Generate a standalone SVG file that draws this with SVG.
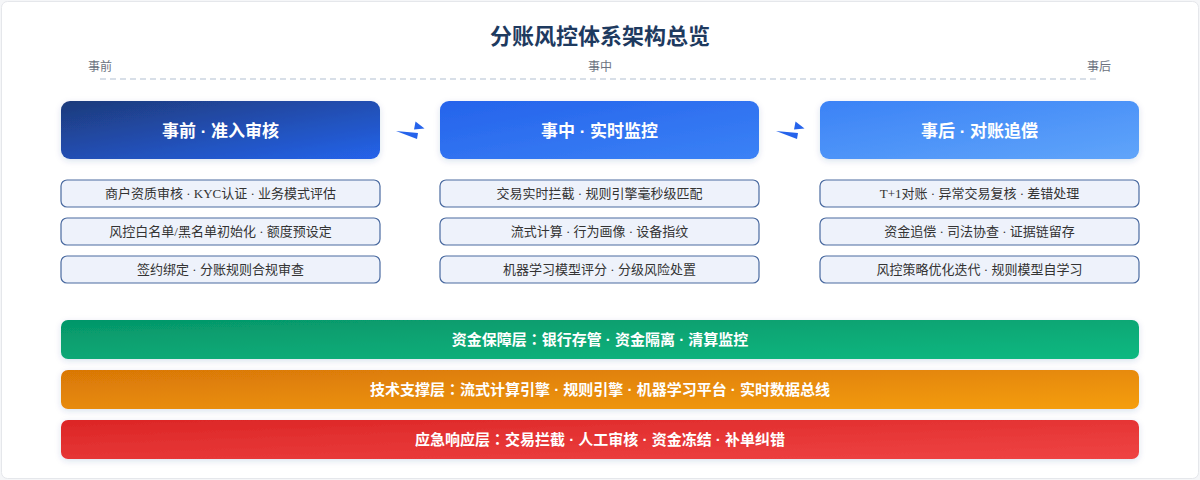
<svg xmlns="http://www.w3.org/2000/svg" width="1200" height="480" viewBox="0 0 1200 480">
<defs>
<linearGradient id="g1" x1="0" y1="0" x2="1" y2="1"><stop offset="0" stop-color="#1e3a7a"/><stop offset="1" stop-color="#2563eb"/></linearGradient>
<linearGradient id="g2" x1="0" y1="0" x2="1" y2="1"><stop offset="0" stop-color="#2563eb"/><stop offset="1" stop-color="#3b82f6"/></linearGradient>
<linearGradient id="g3" x1="0" y1="0" x2="1" y2="1"><stop offset="0" stop-color="#3b82f6"/><stop offset="1" stop-color="#60a5fa"/></linearGradient>
<linearGradient id="gg" x1="0" y1="0" x2="1" y2="1"><stop offset="0" stop-color="#059669"/><stop offset="1" stop-color="#10b981"/></linearGradient>
<linearGradient id="go" x1="0" y1="0" x2="1" y2="1"><stop offset="0" stop-color="#d97706"/><stop offset="1" stop-color="#f59e0b"/></linearGradient>
<linearGradient id="gr" x1="0" y1="0" x2="1" y2="1"><stop offset="0" stop-color="#dc2626"/><stop offset="1" stop-color="#ef4444"/></linearGradient>
<filter id="sh" x="-10%" y="-30%" width="120%" height="180%"><feDropShadow dx="0" dy="2" stdDeviation="3" flood-color="#1e3a8a" flood-opacity="0.15"/></filter>
</defs>
<style>
.title{font-family:"Noto Sans CJK SC","Liberation Sans",sans-serif;font-size:22px;font-weight:700;fill:#1e3a5f}
.tl{font-family:"Noto Sans CJK SC","Liberation Sans",sans-serif;font-size:12px;fill:#6b7280}
.hd{font-family:"Liberation Sans","Noto Sans CJK SC",sans-serif;font-size:17px;font-weight:700;fill:#fff}
.it{fill:#eef2fb;stroke:#4a6aa0;stroke-width:1.2}
.itt{font-family:"Liberation Serif","Noto Sans CJK SC",serif;font-size:13px;fill:#333}
.ly{font-family:"Liberation Sans","Noto Sans CJK SC",sans-serif;font-size:15px;font-weight:700;fill:#fff}
.col{font-family:"Noto Sans CJK TC","Noto Sans CJK SC",sans-serif}
.arr{fill:#2563eb}
</style>
<rect x="0" y="0" width="1200" height="480" fill="#f5f6f8"/>
<rect x="1.5" y="1.5" width="1197" height="477" rx="6" fill="#fff" stroke="#e5e7eb"/>
<text class="title" x="600" y="44" text-anchor="middle">分账风控体系架构总览</text>
<g id="timeline">
<text class="tl" x="100" y="71" text-anchor="middle">事前</text>
<text class="tl" x="600" y="71" text-anchor="middle">事中</text>
<text class="tl" x="1099" y="71" text-anchor="middle">事后</text>
<line x1="100" y1="79" x2="1098" y2="79" stroke="#cbd5e1" stroke-width="1.5" stroke-dasharray="6 4"/>
</g>
<g id="connectors">
<polygon class="arr" points="396,131 418,133 417,139"/>
<polygon class="arr" points="415.5,121.5 424.5,128.5 414,129.5"/>
<polygon class="arr" points="776,131 798,133 797,139"/>
<polygon class="arr" points="795.5,121.5 804.5,128.5 794,129.5"/>
</g>
<g id="pre">
<rect x="61" y="101" width="319" height="58" rx="9" fill="url(#g1)" filter="url(#sh)"/>
<text class="hd" x="220.5" y="136.5" text-anchor="middle">事前 · 准入审核</text>
<rect class="it" x="61" y="180" width="319" height="27" rx="6"/>
<text class="itt" x="220.5" y="198" text-anchor="middle">商户资质审核 · KYC认证 · 业务模式评估</text>
<rect class="it" x="61" y="218" width="319" height="27" rx="6"/>
<text class="itt" x="220.5" y="236" text-anchor="middle">风控白名单/黑名单初始化 · 额度预设定</text>
<rect class="it" x="61" y="256" width="319" height="27" rx="6"/>
<text class="itt" x="220.5" y="274" text-anchor="middle">签约绑定 · 分账规则合规审查</text>
</g>
<g id="mid">
<rect x="440" y="101" width="319" height="58" rx="9" fill="url(#g2)" filter="url(#sh)"/>
<text class="hd" x="599.5" y="136.5" text-anchor="middle">事中 · 实时监控</text>
<rect class="it" x="440" y="180" width="319" height="27" rx="6"/>
<text class="itt" x="599.5" y="198" text-anchor="middle">交易实时拦截 · 规则引擎毫秒级匹配</text>
<rect class="it" x="440" y="218" width="319" height="27" rx="6"/>
<text class="itt" x="599.5" y="236" text-anchor="middle">流式计算 · 行为画像 · 设备指纹</text>
<rect class="it" x="440" y="256" width="319" height="27" rx="6"/>
<text class="itt" x="599.5" y="274" text-anchor="middle">机器学习模型评分 · 分级风险处置</text>
</g>
<g id="post">
<rect x="820" y="101" width="319" height="58" rx="9" fill="url(#g3)" filter="url(#sh)"/>
<text class="hd" x="979.5" y="136.5" text-anchor="middle">事后 · 对账追偿</text>
<rect class="it" x="820" y="180" width="319" height="27" rx="6"/>
<text class="itt" x="979.5" y="198" text-anchor="middle">T+1对账 · 异常交易复核 · 差错处理</text>
<rect class="it" x="820" y="218" width="319" height="27" rx="6"/>
<text class="itt" x="979.5" y="236" text-anchor="middle">资金追偿 · 司法协查 · 证据链留存</text>
<rect class="it" x="820" y="256" width="319" height="27" rx="6"/>
<text class="itt" x="979.5" y="274" text-anchor="middle">风控策略优化迭代 · 规则模型自学习</text>
</g>
<g id="layer-fund">
<rect x="61" y="320" width="1078" height="39" rx="7" fill="url(#gg)" filter="url(#sh)"/>
<text class="ly" x="600" y="345" text-anchor="middle">资金保障层<tspan class="col">：</tspan>银行存管 · 资金隔离 · 清算监控</text>
</g>
<g id="layer-tech">
<rect x="61" y="370" width="1078" height="39" rx="7" fill="url(#go)" filter="url(#sh)"/>
<text class="ly" x="600" y="395" text-anchor="middle">技术支撑层<tspan class="col">：</tspan>流式计算引擎 · 规则引擎 · 机器学习平台 · 实时数据总线</text>
</g>
<g id="layer-emergency">
<rect x="61" y="420" width="1078" height="39" rx="7" fill="url(#gr)" filter="url(#sh)"/>
<text class="ly" x="600" y="445" text-anchor="middle">应急响应层<tspan class="col">：</tspan>交易拦截 · 人工审核 · 资金冻结 · 补单纠错</text>
</g>
</svg>
